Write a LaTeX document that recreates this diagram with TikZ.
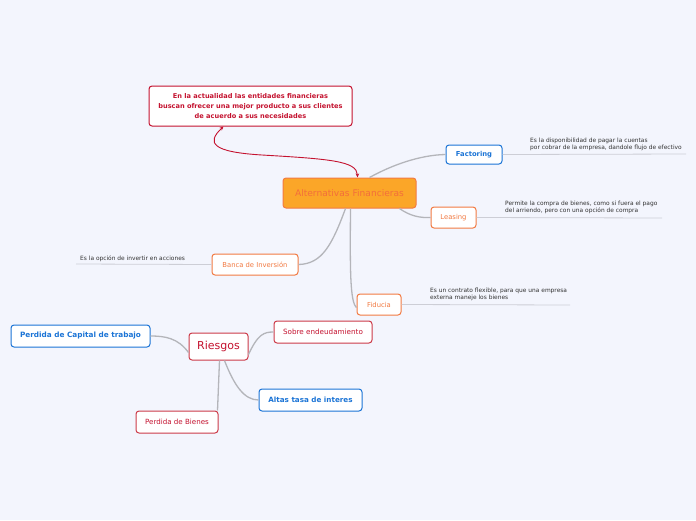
\documentclass[tikz,border=0pt]{standalone}
\usepackage{fontspec}
\setmainfont{DejaVu Sans}
\usetikzlibrary{arrows.meta,calc}
\definecolor{bg}{HTML}{F3F5FD}
\definecolor{mred}{HTML}{C4122F}
\definecolor{mredb}{HTML}{CC3A48}
\definecolor{morange}{HTML}{F27A42}
\definecolor{mfill}{HTML}{FBA628}
\definecolor{mblue}{HTML}{1B74D6}
\definecolor{mgray}{HTML}{B4B5BA}
\definecolor{mline}{HTML}{CDCED6}
\definecolor{mtext}{HTML}{333333}
\tikzset{
  box/.style={draw, fill=white, rounded corners=3pt, line width=1pt, inner sep=0pt, align=center},
  redbox/.style={box, draw=mredb, text=mred},
  orbox/.style={box, draw=morange, text=morange, font=\fontsize{6.8}{8}\selectfont},
  bluebox/.style={box, draw=mblue, text=mblue, font=\bfseries\fontsize{7.2}{8}\selectfont},
  conn/.style={draw=mgray, line width=1.3pt},
  descline/.style={draw=mline, line width=0.8pt},
  desc/.style={inner sep=0pt, anchor=north west, align=left, text=mtext, font=\fontsize{5.9}{7.5}\selectfont},
}
\begin{document}
\begin{tikzpicture}[x=1pt,y=-1pt]
\useasboundingbox (0,0) rectangle (696,520);
\fill[bg] (0,0) rectangle (696,520);

% nodes
\node[box, draw=mred, text=mred, minimum width=203pt, minimum height=40pt, font=\bfseries\fontsize{6.6}{10}\selectfont] (top) at (250.5,106)
  {En la actualidad las entidades financieras\\buscan ofrecer una mejor producto a sus clientes\\de acuerdo a sus necesidades};
\node[box, fill=mfill, draw=morange, text=morange!90!red, minimum width=133pt, minimum height=30pt, font=\fontsize{9.1}{10}\selectfont] (central) at (349.5,193) {Alternativas Financieras};
\node[bluebox, minimum width=56pt, minimum height=19pt, font=\bfseries\fontsize{6.8}{8}\selectfont] (fact) at (474,154.5) {Factoring};
\node[orbox, minimum width=45pt, minimum height=21pt] (leas) at (453.5,217.5) {Leasing};
\node[orbox, minimum width=86pt, minimum height=21pt] (banca) at (255,264.5) {Banca de Inversión};
\node[orbox, minimum width=44pt, minimum height=21pt] (fid) at (379,304.5) {Fiducia};
\node[redbox, minimum width=59pt, minimum height=27pt, font=\fontsize{11}{13}\selectfont] (ries) at (218.5,346.5) {Riesgos};
\node[redbox, minimum width=98pt, minimum height=22pt, font=\fontsize{7.2}{8}\selectfont] (sobre) at (323,332) {Sobre endeudamiento};
\node[bluebox, minimum width=139pt, minimum height=22pt, font=\bfseries\fontsize{7.3}{8}\selectfont] (capital) at (80.5,336) {Perdida de Capital de trabajo};
\node[bluebox, minimum width=103pt, minimum height=22pt] (altas) at (310.5,400) {Altas tasa de interes};
\node[redbox, minimum width=82pt, minimum height=22pt, font=\fontsize{7.1}{8}\selectfont] (bienes) at (177,422) {Perdida de Bienes};

% descriptions
\coordinate (fe) at (686,154);
\coordinate (le) at (662,218);
\coordinate (be) at (76,264);
\coordinate (fie) at (570,305);
\node[desc] (fd) at (530,137.5) {Es la disponibilidad de pagar la cuentas\\por cobrar de la empresa, dandole flujo de efectivo};
\node[desc] (ld) at (505,200.5) {Permite la compra de bienes, como si fuera el pago\\del arriendo, pero con una opción de compra};
\node[desc] (bd) at (80,255.5) {Es la opción de invertir en acciones};
\node[desc] (fid2) at (430,287.5) {Es un contrato flexible, para que una empresa\\externa maneje los bienes};
\draw[descline] (fact.east) -- (fe);
\draw[descline] (leas.east) -- (le);
\draw[descline] (banca.west) -- (be);
\draw[descline] (fid.east) -- (fie);

% connectors
\draw[conn] ([xshift=20pt]central.north) .. controls (392,165) and (420,155) .. (fact.west);
\draw[conn] ([xshift=50pt]central.south) .. controls (410,216) and (420,218) .. (leas.west);
\draw[conn] ([xshift=-4pt]central.south) .. controls (332,245) and (322,264) .. (banca.east);
\draw[conn] ([xshift=1pt]central.south) .. controls (350,270) and (350,302) .. ([yshift=-3pt]fid.west);
\draw[conn] ([yshift=-8pt]ries.east) .. controls (258,334) and (264,332) .. (sobre.west);
\draw[conn] (capital.east) .. controls (165,336) and (178,338) .. ([yshift=-6pt]ries.west);
\draw[conn] ([xshift=6pt]ries.south) .. controls (234,385) and (244,400) .. (altas.west);
\draw[conn] ([xshift=1pt]ries.south) -- ([xshift=-1pt]bienes.north east);

% red link
\draw[mred, line width=0.9pt, {Stealth[length=4pt,width=3.5pt]}-{Stealth[length=4pt,width=3.5pt]}]
  ([xshift=-27pt]top.south) .. controls (206,143) and (212,152) .. (262,155)
  .. controls (330,159) and (357,161) .. ([xshift=8pt]central.north);
\end{tikzpicture}
\end{document}
